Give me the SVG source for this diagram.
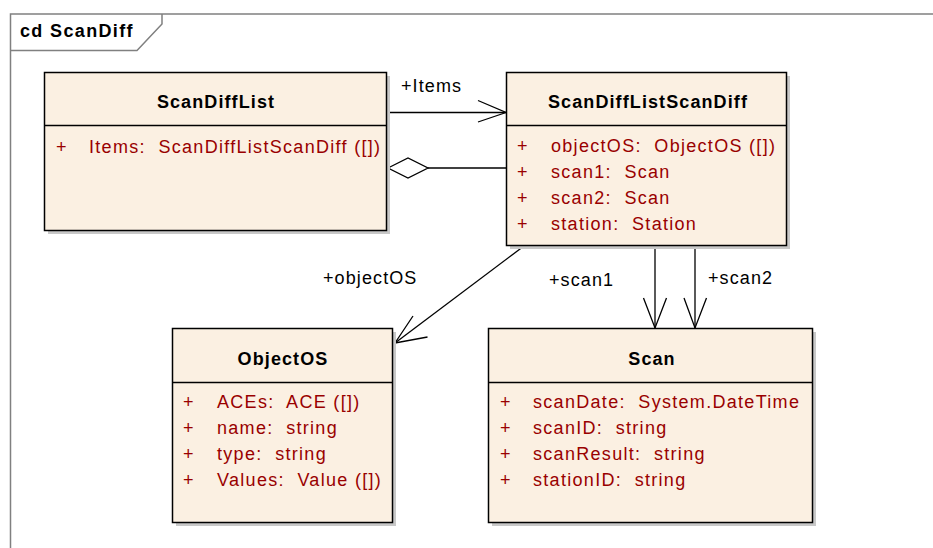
<svg xmlns="http://www.w3.org/2000/svg" width="933" height="548" viewBox="0 0 933 548">
<style>
.frame{fill:none;stroke:#808080;stroke-width:1.5}
.shadow{fill:#c8c8c8}
.box{fill:#fbf0e2;stroke:#000;stroke-width:1.5}
.div{stroke:#000;stroke-width:1.5}
.title{font-family:"Liberation Sans",Arial,sans-serif;font-size:18px;letter-spacing:1.1px;font-weight:bold;fill:#000;text-anchor:middle}
.attr{font-family:"Liberation Sans",Arial,sans-serif;font-size:18px;letter-spacing:1.3px;fill:#990000;white-space:pre}
.lbl{font-family:"Liberation Sans",Arial,sans-serif;font-size:18px;letter-spacing:1.1px;fill:#000}
.ln{fill:none;stroke:#000;stroke-width:1.3}
.frameTitle{font-family:"Liberation Sans",Arial,sans-serif;font-size:18px;letter-spacing:1.35px;font-weight:bold;fill:#000}
</style>
<rect width="933" height="548" fill="#fff"/>
<g id="frame">
<path class="frame" d="M10.5,560 V14 H940"/>
<path class="frame" d="M10.5,50.5 H137 L162,24 V14"/>
<text class="frameTitle" x="20" y="37">cd ScanDiff</text>
</g>
<g id="connectors">
<path class="ln" d="M387,112.5 H506"/>
<path class="ln" d="M478,100.5 L506,112.5 L478,122"/>
<path class="ln" d="M428,168 H506"/>
<path d="M388,168 L408,158 L428,168 L408,178 Z" fill="#fff" stroke="#000" stroke-width="1.3"/>
<path class="ln" d="M524,246 L395,343"/>
<path class="ln" d="M413,316 L395,343 L427.5,337"/>
<path class="ln" d="M655,246 V328"/>
<path class="ln" d="M643.5,298 L655,328 L666.5,298"/>
<path class="ln" d="M695,246 V328"/>
<path class="ln" d="M684,298 L695,328 L706.5,298"/>
<text class="lbl" x="401" y="92">+Items</text>
<text class="lbl" x="323" y="284">+objectOS</text>
<text class="lbl" x="549" y="286">+scan1</text>
<text class="lbl" x="708" y="284">+scan2</text>
</g>
<g id="ScanDiffList">
<rect class="shadow" x="48" y="76" width="342" height="158"/>
<rect class="box" x="44.5" y="72.5" width="342" height="158"/>
<line class="div" x1="44.5" y1="125.5" x2="386.5" y2="125.5"/>
<text class="title" x="216" y="108">ScanDiffList</text>
<text class="attr" x="56" y="153">+</text>
<text class="attr" x="89" y="153">Items:  ScanDiffListScanDiff ([])</text>
</g>
<g id="ScanDiffListScanDiff">
<rect class="shadow" x="510" y="76" width="280" height="173"/>
<rect class="box" x="506.5" y="72.5" width="280" height="173"/>
<line class="div" x1="506.5" y1="125.5" x2="786.5" y2="125.5"/>
<text class="title" x="648" y="108">ScanDiffListScanDiff</text>
<text class="attr" x="517" y="152">+</text>
<text class="attr" x="551" y="152">objectOS:  ObjectOS ([])</text>
<text class="attr" x="517" y="178">+</text>
<text class="attr" x="551" y="178">scan1:  Scan</text>
<text class="attr" x="517" y="204">+</text>
<text class="attr" x="551" y="204">scan2:  Scan</text>
<text class="attr" x="517" y="230">+</text>
<text class="attr" x="551" y="230">station:  Station</text>
</g>
<g id="ObjectOS">
<rect class="shadow" x="176" y="332" width="220" height="194"/>
<rect class="box" x="172.5" y="328.5" width="220" height="194"/>
<line class="div" x1="172.5" y1="382.5" x2="392.5" y2="382.5"/>
<text class="title" x="283" y="365">ObjectOS</text>
<text class="attr" x="183" y="408">+</text>
<text class="attr" x="217" y="408">ACEs:  ACE ([])</text>
<text class="attr" x="183" y="434">+</text>
<text class="attr" x="217" y="434">name:  string</text>
<text class="attr" x="183" y="460">+</text>
<text class="attr" x="217" y="460">type:  string</text>
<text class="attr" x="183" y="486">+</text>
<text class="attr" x="217" y="486">Values:  Value ([])</text>
</g>
<g id="Scan">
<rect class="shadow" x="492" y="332" width="324" height="194"/>
<rect class="box" x="488.5" y="328.5" width="324" height="194"/>
<line class="div" x1="488.5" y1="382.5" x2="812.5" y2="382.5"/>
<text class="title" x="652" y="365">Scan</text>
<text class="attr" x="500" y="408">+</text>
<text class="attr" x="533" y="408">scanDate:  System.DateTime</text>
<text class="attr" x="500" y="434">+</text>
<text class="attr" x="533" y="434">scanID:  string</text>
<text class="attr" x="500" y="460">+</text>
<text class="attr" x="533" y="460">scanResult:  string</text>
<text class="attr" x="500" y="486">+</text>
<text class="attr" x="533" y="486">stationID:  string</text>
</g>
</svg>
